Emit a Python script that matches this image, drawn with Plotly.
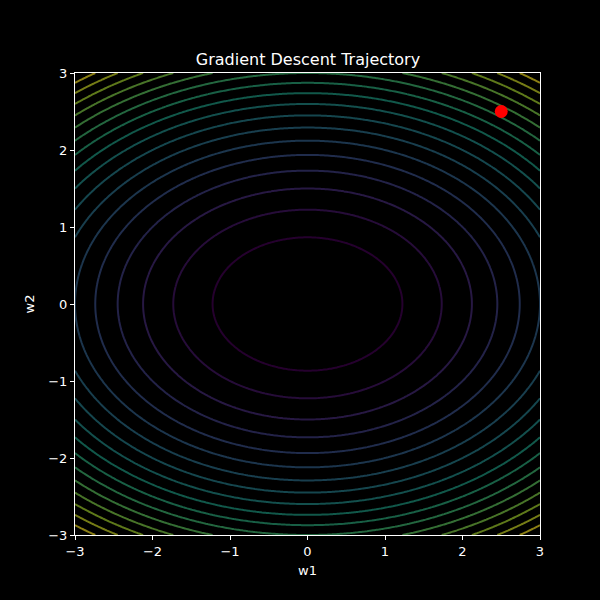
import numpy as np
import plotly.graph_objects as go

# Loss surface parameters: f(w1, w2) = w1^2 + 2*w2^2
coef_w1 = 1.0
coef_w2 = 2.0
w1_vals = np.linspace(-3, 3, 200)
w2_vals = np.linspace(-3, 3, 200)
W1, W2 = np.meshgrid(w1_vals, w2_vals)
Z = coef_w1 * W1**2 + coef_w2 * W2**2

# Trajectory (first point shown)
traj_w1 = [2.5]
traj_w2 = [2.5]

tick_vals = [-3, -2, -1, 0, 1, 2, 3]
tick_text = ["\u22123", "\u22122", "\u22121", "0", "1", "2", "3"]

fig = go.Figure()
fig.add_trace(go.Contour(
    x=w1_vals, y=w2_vals, z=Z,
    contours=dict(coloring="lines", start=1.5, end=25.5, size=1.5),
    colorscale="Viridis", zmin=0, zmax=27, showscale=False,
    line=dict(width=2), opacity=0.55, hoverinfo="skip"))
fig.add_trace(go.Scatter(
    x=traj_w1, y=traj_w2, mode="markers",
    marker=dict(color="red", size=13, line=dict(width=0)),
    showlegend=False))

axis_common = dict(
    range=[-3, 3], tickvals=tick_vals, ticktext=tick_text,
    showgrid=False, zeroline=False, showline=True, linecolor="white",
    linewidth=1, mirror=True, ticks="outside", ticklen=4, tickcolor="white",
    tickfont=dict(color="white", size=13, family="DejaVu Sans"),
    title_font=dict(color="white", size=13, family="DejaVu Sans"))

fig.update_layout(
    width=600, height=600,
    paper_bgcolor="black", plot_bgcolor="black",
    margin=dict(l=75, r=60, t=73, b=65),
    title=dict(text="Gradient Descent Trajectory", x=0.5133, xanchor="center",
               y=1 - 59 / 600, yanchor="middle",
               font=dict(color="white", size=16, family="DejaVu Sans")),
    xaxis=dict(**axis_common, title=dict(text="w1", standoff=8)),
    yaxis=dict(**axis_common, title=dict(text="w2", standoff=10)),
    showlegend=False)

fig.write_html("out.html")
